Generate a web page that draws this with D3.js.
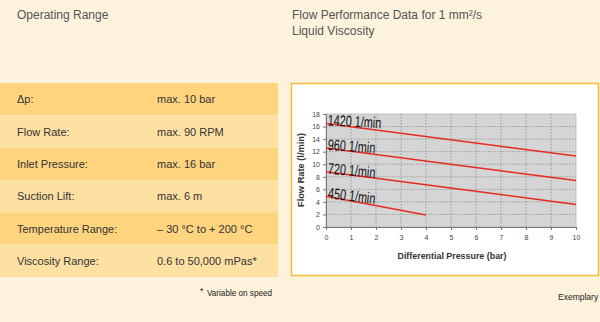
<!DOCTYPE html>
<html><head><meta charset="utf-8">
<script src="https://cdn.jsdelivr.net/npm/d3@7/dist/d3.min.js"></script>
<style>
html,body{margin:0;padding:0;background:#fdf2dc;}
svg{display:block;font-family:"Liberation Sans",Arial,sans-serif;}
</style></head>
<body><svg id="c" width="600" height="322"></svg>
<script>
const specLabels = ["Δp:", "Flow Rate:", "Inlet Pressure:", "Suction Lift:", "Temperature Range:", "Viscosity Range:"];
const specValues = ["max. 10 bar", "max. 90 RPM", "max. 16 bar", "max. 6 m", "– 30 °C to + 200 °C", "0.6 to 50,000 mPas*"];
const speeds = ["1420 1/min", "960 1/min", "720 1/min", "450 1/min"];
const pressureStart = [0, 0, 0, 0];
const pressureEnd = [10, 10, 10, 4];
const flowStart = [16.5, 12.6, 8.8, 4.9];
const flowEnd = [11.3, 7.4, 3.6, 1.9];
const xTicks = [0,1,2,3,4,5,6,7,8,9,10];
const yTicks = [0,2,4,6,8,10,12,14,16,18];

const svg = d3.select("#c");
svg.append("rect").attr("width",600).attr("height",322).attr("fill","#fdf2dc");

// Left panel
svg.append("text").attr("x",17).attr("y",19).attr("font-size",12).attr("fill","#555").text("Operating Range");
const rowY = d3.scaleBand().domain(d3.range(specLabels.length)).range([83,277]).padding(0);
const rows = svg.append("g");
specLabels.forEach((l,i)=>{
  rows.append("rect").attr("x",0).attr("y",rowY(i)).attr("width",278).attr("height",rowY.bandwidth())
    .attr("fill", i%2===0 ? "#fed47f" : "#fee0a3");
  rows.append("text").attr("x",17).attr("y",rowY(i)+rowY.bandwidth()/2+4).attr("font-size",11).attr("fill","#333").text(l);
  rows.append("text").attr("x",157).attr("y",rowY(i)+rowY.bandwidth()/2+4).attr("font-size",11).attr("fill","#333").text(specValues[i]);
});
svg.append("text").attr("x",200).attr("y",294).attr("font-size",9).attr("fill","#222").text("*");
svg.append("text").attr("x",207).attr("y",296).attr("font-size",9).attr("fill","#222")
  .attr("textLength",65).attr("lengthAdjust","spacingAndGlyphs").text("Variable on speed");

// Right panel titles
svg.append("text").attr("x",292).attr("y",19).attr("font-size",12).attr("fill","#555").text("Flow Performance Data for 1 mm²/s");
svg.append("text").attr("x",292).attr("y",35).attr("font-size",12).attr("fill","#555").text("Liquid Viscosity");
svg.append("text").attr("x",558).attr("y",300).attr("font-size",8.5).attr("fill","#222").text("Exemplary");

// Chart box
svg.append("rect").attr("x",291.5).attr("y",83.5).attr("width",307).attr("height",192)
  .attr("fill","#fff").attr("stroke","#f8bd35").attr("stroke-width",1.5);

const x = d3.scaleLinear().domain([0,10]).range([326,576]);
const y = d3.scaleLinear().domain([0,18]).range([227,114]);

svg.append("rect").attr("x",x(0)).attr("y",y(18)).attr("width",x(10)-x(0)).attr("height",y(0)-y(18))
  .attr("fill","#d5d5d6").attr("stroke","#b8b8b8").attr("stroke-width",0.8);

const grid = svg.append("g").attr("stroke","#8e8e8e").attr("stroke-width",0.8).attr("stroke-dasharray","1.5,1.5");
xTicks.slice(1,-1).forEach(t=>grid.append("line").attr("x1",x(t)).attr("x2",x(t)).attr("y1",y(18)).attr("y2",y(0)));
yTicks.slice(1,-1).forEach(t=>grid.append("line").attr("x1",x(0)).attr("x2",x(10)).attr("y1",y(t)).attr("y2",y(t)));

const yAxis = svg.append("g").attr("transform",`translate(${x(0)},0)`)
  .call(d3.axisLeft(y).tickValues(yTicks).tickSize(3).tickPadding(3));
const xAxis = svg.append("g").attr("transform",`translate(0,${y(0)})`)
  .call(d3.axisBottom(x).tickValues(xTicks).tickSize(3).tickPadding(5));
[yAxis,xAxis].forEach(a=>{
  a.select(".domain").attr("stroke","#777");
  a.selectAll(".tick line").attr("stroke","#777");
  a.selectAll(".tick text").attr("font-size",7).attr("fill","#444").attr("font-family","Liberation Sans, Arial, sans-serif");
});

svg.append("text").attr("x",452).attr("y",259).attr("text-anchor","middle").attr("font-size",9.5).attr("font-weight","bold")
  .attr("fill","#333").attr("textLength",109).attr("lengthAdjust","spacingAndGlyphs").text("Differential Pressure (bar)");
svg.append("text").attr("transform","translate(304,170) rotate(-90)").attr("text-anchor","middle").attr("font-size",8.5)
  .attr("font-weight","bold").attr("fill","#333").attr("textLength",74).attr("lengthAdjust","spacingAndGlyphs").text("Flow Rate (l/min)");

// Lines
const line = d3.line().x(d=>x(d[0])).y(d=>y(d[1]));
const labelAngles = [3,4,5,7];
speeds.forEach((s,i)=>{
  svg.append("path").attr("d",line([[pressureStart[i],flowStart[i]],[pressureEnd[i],flowEnd[i]]]))
    .attr("fill","none").attr("stroke","#e62b22").attr("stroke-width",1.5);
  const lx = x(pressureStart[i])+1.5, ly = y(flowStart[i])+2;
  svg.append("text").attr("transform",`translate(${lx},${ly}) rotate(${labelAngles[i]}) scale(0.7,1)`)
    .attr("font-size",15.5).attr("fill","#111").text(s);
});
</script></body></html>
